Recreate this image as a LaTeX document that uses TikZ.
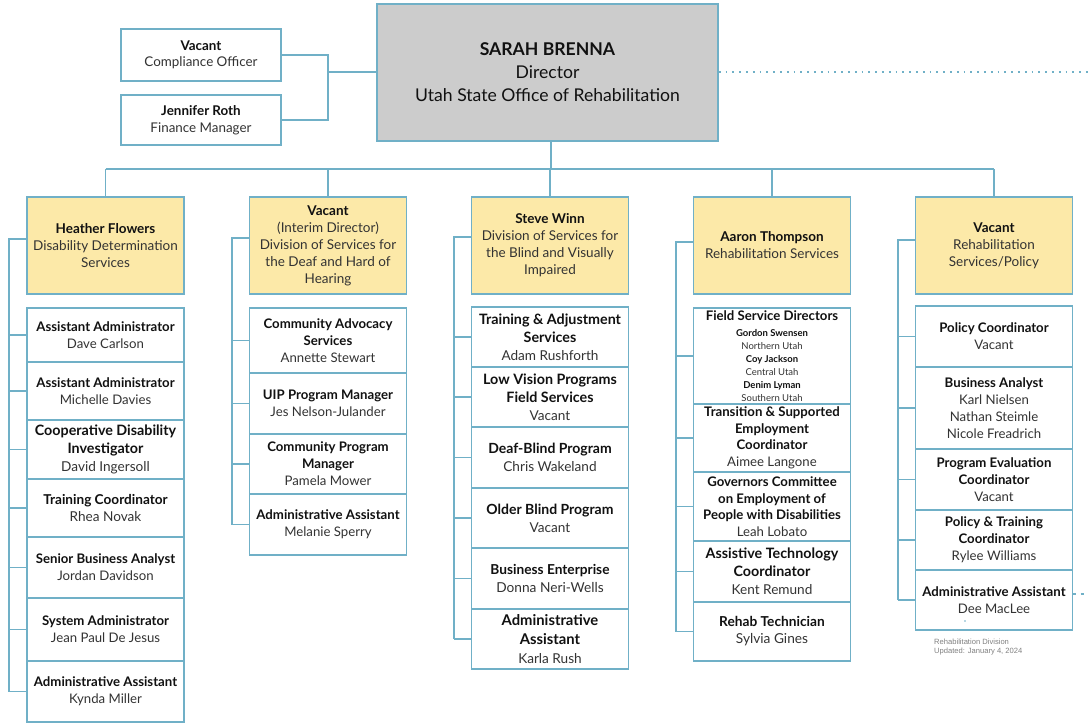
\documentclass[tikz,border=0pt]{standalone}
\usepackage{fontspec}
\setmainfont{Lato}
\newfontfamily\arialf{Liberation Sans}
\usetikzlibrary{calc}
\definecolor{ln}{HTML}{70B0C7}
\definecolor{yl}{HTML}{FCE9A8}
\definecolor{gr}{HTML}{CCCCCC}
\definecolor{tx}{HTML}{333333}
\definecolor{tk}{HTML}{111111}
\newcommand\ttl[1]{\textbf{\color{tk}#1}}
\begin{document}
\begin{tikzpicture}[x=1pt,y=-1pt,
  bx/.style={draw=ln, line width=1.5pt, fill=white, inner sep=0pt, outer sep=0pt, align=center, minimum width=157pt, text=tx, font=\fontsize{13.2}{17}\selectfont},
  yb/.style={bx, fill=yl, minimum height=97pt, font=\fontsize{13.5}{17}\selectfont},
  conn/.style={draw=ln, line width=1.5pt},
  vl/.style={draw=ln, line width=2.8pt},
]
\useasboundingbox (0,0) rectangle (1088,723);

% director and staff
\node[draw=ln, line width=1.5pt, fill=gr, minimum width=341pt, minimum height=137pt, align=center, inner sep=0pt, text=tk, font=\fontsize{17.6}{23}\selectfont] (dir) at (547.5,72.5) {\textbf{SARAH BRENNA}\\Director\\Utah State Office of Rehabilitation};
\node[bx, minimum width=160pt, minimum height=52pt, font=\fontsize{13.4}{16.5}\selectfont] (comp) at (201,55) {\ttl{Vacant}\\Compliance Officer};
\node[bx, minimum width=160pt, minimum height=50pt, font=\fontsize{13.4}{16.5}\selectfont] (fin) at (201,120) {\ttl{Jennifer Roth}\\Finance Manager};
\coordinate (j0) at (328,72);
\draw[conn] (comp.east) -| (j0) |- (fin.east);
\draw[conn] (j0) -- (j0 -| dir.west);
\coordinate (dotend) at (1088,72);
\draw[ln, line width=1.8pt, dash pattern=on 1.8pt off 5pt] (dir.east |- dotend) -- (dotend);

% division heads
\node[yb] (y1) at (105.5,245.5) {\ttl{Heather Flowers}\\Disability Determination\\Services};
\node[yb] (y2) at (328,245.5) {\ttl{Vacant}\\(Interim Director)\\Division of Services for\\the Deaf and Hard of\\Hearing};
\node[yb] (y3) at (550,245.5) {\ttl{Steve Winn}\\Division of Services for\\the Blind and Visually\\Impaired};
\node[yb] (y4) at (772,245.5) {\ttl{Aaron Thompson}\\Rehabilitation Services};
\node[yb] (y5) at (994,245.5) {\ttl{Vacant}\\Rehabilitation\\Services/Policy};

\coordinate (bus) at (551,169);
\draw[conn] (bus |- dir.south) -- (bus);
\draw[conn] (y1.north |- bus) -- (y5.north |- bus);
\foreach \n in {y1,y2,y3,y4,y5} \draw[conn] (\n.north |- bus) -- (\n.north);

% column 1
\node[bx, minimum height=54pt] (c1a) at (105.5,335) {\ttl{Assistant Administrator}\\Dave Carlson};
\node[bx, minimum height=58pt] (c1b) at (105.5,391) {\ttl{Assistant Administrator}\\Michelle Davies};
\node[bx, minimum height=59pt, font=\fontsize{14.3}{18}\selectfont] (c1c) at (105.5,449.5) {\ttl{Cooperative Disability}\\\ttl{Investigator}\\{\fontsize{13.6}{18}\selectfont David Ingersoll}};
\node[bx, minimum height=58pt, font=\fontsize{13.6}{17}\selectfont] (c1d) at (105.5,508) {\ttl{Training Coordinator}\\Rhea Novak};
\node[bx, minimum height=61pt] (c1e) at (105.5,567.5) {\ttl{Senior Business Analyst}\\Jordan Davidson};
\node[bx, minimum height=63pt] (c1f) at (105.5,629.5) {\ttl{System Administrator}\\Jean Paul De Jesus};
\node[bx, minimum height=61pt] (c1g) at (105.5,691.5) {\ttl{Administrative Assistant}\\Kynda Miller};
\coordinate (v1) at (9,0);
\draw[vl] ([yshift=6.5pt]y1.west) -| (v1 |- c1g.west);
\foreach \n in {c1a,c1b,c1c,c1d,c1e,c1f,c1g} \draw[conn] (v1 |- \n.west) -- (\n.west);

% column 2
\node[bx, minimum height=65pt] (c2a) at (328,340.5) {\ttl{Community Advocacy}\\\ttl{Services}\\Annette Stewart};
\node[bx, minimum height=61pt] (c2b) at (328,403.5) {\ttl{UIP Program Manager}\\Jes Nelson-Julander};
\node[bx, minimum height=60pt] (c2c) at (328,464) {\ttl{Community Program}\\\ttl{Manager}\\Pamela Mower};
\node[bx, minimum height=61pt] (c2d) at (328,524.5) {\ttl{Administrative Assistant}\\Melanie Sperry};
\coordinate (v2) at (232,0);
\draw[vl] ([yshift=7.5pt]y2.west) -| (v2 |- c2d.west);
\foreach \n in {c2a,c2b,c2c,c2d} \draw[conn] (v2 |- \n.west) -- (\n.west);

% column 3
\node[bx, minimum height=60pt, font=\fontsize{14.3}{18}\selectfont] (c3a) at (550,337) {\ttl{Training \& Adjustment}\\\ttl{Services}\\{\fontsize{13.6}{18}\selectfont Adam Rushforth}};
\node[bx, minimum height=60pt, font=\fontsize{14.3}{18}\selectfont] (c3b) at (550,397) {\ttl{Low Vision Programs}\\\ttl{Field Services}\\{\fontsize{13.6}{18}\selectfont Vacant}};
\node[bx, minimum height=61pt, font=\fontsize{14}{18}\selectfont] (c3c) at (550,457.5) {\ttl{Deaf-Blind Program}\\{\fontsize{13.6}{18}\selectfont Chris Wakeland}};
\node[bx, minimum height=60pt, font=\fontsize{14}{18}\selectfont] (c3d) at (550,518) {\ttl{Older Blind Program}\\{\fontsize{13.6}{18}\selectfont Vacant}};
\node[bx, minimum height=61pt, font=\fontsize{13.7}{18}\selectfont] (c3e) at (550,578.5) {\ttl{Business Enterprise}\\Donna Neri-Wells};
\node[bx, minimum height=60pt, font=\fontsize{14.8}{19}\selectfont] (c3f) at (550,639) {\ttl{Administrative}\\\ttl{Assistant}\\{\fontsize{13.6}{19}\selectfont Karla Rush}};
\coordinate (v3) at (454,0);
\draw[vl] ([yshift=8.5pt]y3.west) -| (v3 |- c3f.west);
\foreach \n in {c3a,c3b,c3c,c3d,c3e,c3f} \draw[conn] (v3 |- \n.west) -- (\n.west);

% column 4
\node[bx, minimum height=96pt, font=\fontsize{9.5}{13}\selectfont] (c4a) at (772,356) {{\fontsize{13.2}{14}\selectfont\ttl{Field Service Directors}}\\[3pt]\ttl{Gordon Swensen}\\Northern Utah\\\ttl{Coy Jackson}\\Central Utah\\\ttl{Denim Lyman}\\Southern Utah};
\node[bx, minimum height=68pt, font=\fontsize{13.2}{16.5}\selectfont] (c4b) at (772,438) {\ttl{Transition \& Supported}\\\ttl{Employment}\\\ttl{Coordinator}\\Aimee Langone};
\node[bx, minimum height=69pt, font=\fontsize{13.2}{16.5}\selectfont] (c4c) at (772,506.5) {\ttl{Governors Committee}\\\ttl{on Employment of}\\\ttl{People with Disabilities}\\Leah Lobato};
\node[bx, minimum height=61pt, font=\fontsize{14.3}{18}\selectfont] (c4d) at (772,571.5) {\ttl{Assistive Technology}\\\ttl{Coordinator}\\{\fontsize{13.6}{18}\selectfont Kent Remund}};
\node[bx, minimum height=59pt, font=\fontsize{13.7}{17}\selectfont] (c4e) at (772,631.5) {\ttl{Rehab Technician}\\Sylvia Gines};
\coordinate (v4) at (676,0);
\draw[vl] ([yshift=3.5pt]y4.west) -| (v4 |- c4e.west);
\foreach \n in {c4a,c4b,c4c,c4d,c4e} \draw[conn] (v4 |- \n.west) -- (\n.west);

% column 5
\node[bx, minimum height=61pt] (c5a) at (994,336.5) {\ttl{Policy Coordinator}\\Vacant};
\node[bx, minimum height=82pt] (c5b) at (994,408) {\ttl{Business Analyst}\\Karl Nielsen\\Nathan Steimle\\Nicole Freadrich};
\node[bx, minimum height=61pt] (c5c) at (994,479.5) {\ttl{Program Evaluation}\\\ttl{Coordinator}\\Vacant};
\node[bx, minimum height=60pt] (c5d) at (994,540) {\ttl{Policy \& Training}\\\ttl{Coordinator}\\Rylee Williams};
\node[bx, minimum height=60pt] (c5e) at (994,600) {\ttl{Administrative Assistant}\\Dee MacLee};
\coordinate (v5) at (898,0);
\draw[vl] ([yshift=5.5pt]y5.west) -| (v5 |- c5e.west);
\foreach \n in {c5a,c5b,c5c,c5d,c5e} \draw[conn] (v5 |- \n.west) -- (\n.west);
\fill[ln] (965,621) circle (0.8);
\coordinate (dend) at (1088,594);
\draw[ln, line width=1.5pt, dash pattern=on 3pt off 5pt] (c5e.east |- dend) -- (dend);

% note
\node[font=\arialf\fontsize{7.6}{9}\selectfont, text=gray, align=left, anchor=north west, inner sep=0pt] (note) at (934,639) {Rehabilitation Division\\Updated: January 4, 2024};
\end{tikzpicture}
\end{document}
